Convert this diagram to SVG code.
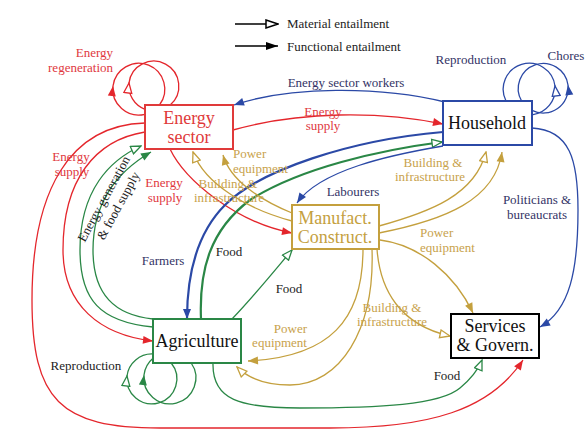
<svg xmlns="http://www.w3.org/2000/svg" width="588" height="435" viewBox="0 0 588 435">
<style>
text{font-family:"Liberation Serif","Times New Roman",serif;font-size:13px}
.node{font-size:18px;text-anchor:middle}
.c{text-anchor:middle}
.e{text-anchor:end}
.tr{fill:#e0383e}.tb{fill:#333366}.tg{fill:#c8a24c}.tk{fill:#222}
.ln{fill:none;stroke-width:1.3}
.r{stroke:#e4262c}.b{stroke:#2b49a6}.y{stroke:#c4a03e}.g{stroke:#2a8746}.k{stroke:#000}
.w{stroke-width:2.2}
</style>
<defs>
<marker id="fr" markerUnits="userSpaceOnUse" viewBox="0 0 12 10" markerWidth="12" markerHeight="10" refX="11" refY="5" orient="auto"><path d="M1,1 L11,5 L1,9 z" fill="#e4262c" stroke="none"/></marker>
<marker id="hr" markerUnits="userSpaceOnUse" viewBox="0 0 12 10" markerWidth="12" markerHeight="10" refX="11" refY="5" orient="auto"><path d="M1,1 L11,5 L1,9 z" fill="#fff" stroke="#e4262c" stroke-width="1.3"/></marker>
<marker id="fb" markerUnits="userSpaceOnUse" viewBox="0 0 12 10" markerWidth="12" markerHeight="10" refX="11" refY="5" orient="auto"><path d="M1,1 L11,5 L1,9 z" fill="#2b49a6" stroke="none"/></marker>
<marker id="hb" markerUnits="userSpaceOnUse" viewBox="0 0 12 10" markerWidth="12" markerHeight="10" refX="11" refY="5" orient="auto"><path d="M1,1 L11,5 L1,9 z" fill="#fff" stroke="#2b49a6" stroke-width="1.3"/></marker>
<marker id="fy" markerUnits="userSpaceOnUse" viewBox="0 0 12 10" markerWidth="12" markerHeight="10" refX="11" refY="5" orient="auto"><path d="M1,1 L11,5 L1,9 z" fill="#c4a03e" stroke="none"/></marker>
<marker id="hy" markerUnits="userSpaceOnUse" viewBox="0 0 12 10" markerWidth="12" markerHeight="10" refX="11" refY="5" orient="auto"><path d="M1,1 L11,5 L1,9 z" fill="#fff" stroke="#c4a03e" stroke-width="1.3"/></marker>
<marker id="fg" markerUnits="userSpaceOnUse" viewBox="0 0 12 10" markerWidth="12" markerHeight="10" refX="11" refY="5" orient="auto"><path d="M1,1 L11,5 L1,9 z" fill="#2a8746" stroke="none"/></marker>
<marker id="hg" markerUnits="userSpaceOnUse" viewBox="0 0 12 10" markerWidth="12" markerHeight="10" refX="11" refY="5" orient="auto"><path d="M1,1 L11,5 L1,9 z" fill="#fff" stroke="#2a8746" stroke-width="1.3"/></marker>
<marker id="fk" markerUnits="userSpaceOnUse" viewBox="0 0 14 10" markerWidth="14" markerHeight="10" refX="13" refY="5" orient="auto"><path d="M1,1 L13,5 L1,9 z" fill="#000" stroke="none"/></marker>
<marker id="hk" markerUnits="userSpaceOnUse" viewBox="0 0 14 10" markerWidth="14" markerHeight="10" refX="13" refY="5" orient="auto"><path d="M1,1 L13,5 L1,9 z" fill="#fff" stroke="#000" stroke-width="1.5"/></marker>
</defs>
<rect width="588" height="435" fill="#fff"/>

<g id="legend">
<path class="ln k" stroke-width="2" d="M235,24 L278,24" marker-end="url(#hk)"/>
<path class="ln k" stroke-width="2" d="M235,46 L278,46" marker-end="url(#fk)"/>
<text x="287" y="28" class="tk">Material entailment</text>
<text x="287" y="51" class="tk">Functional entailment</text>
</g>

<g id="connectors">
<!-- self loops -->
<path class="ln r" d="M145,114.3 A26,26 0 0,1 113,86 A26,26 0 1,1 159.5,105" marker-mid="url(#fr)"/>
<path class="ln r" d="M145,109.3 A25,25 0 0,1 129,83 A25,25 0 1,1 170.2,105" marker-mid="url(#hr)"/>
<path class="ln b" d="M532,114.8 A26,26 0 0,0 555,86 A26,26 0 1,0 506,101" marker-mid="url(#hb)"/>
<path class="ln b" d="M532,110.4 A25,25 0 0,0 568,85 A25,25 0 1,0 521.6,101" marker-mid="url(#fb)"/>
<path class="ln g" d="M171.2,363 A25,25 0 1,1 127,376 A25,25 0 0,1 153,354" marker-mid="url(#hg)"/>
<path class="ln g" d="M191.2,363 A26,26 0 1,1 144,375 A26,26 0 0,1 153,358.3" marker-mid="url(#fg)"/>
<!-- red -->
<path class="ln r" d="M233,130 C300,111 380,111 443,124" marker-end="url(#fr)"/>
<path class="ln r" d="M170,149 C185,180 235,222 292,233" marker-end="url(#fr)"/>
<path class="ln r" d="M145,132 C95,140 63,180 63,250 C63,305 100,335 153,341" marker-end="url(#fr)"/>
<path class="ln r" d="M145,123 C70,125 32,190 32,300 C32,400 60,428 160,428 L330,428 C430,428 490,410 523,360" marker-end="url(#fr)"/>
<!-- green -->
<path class="ln g" d="M153,327 C100,322 80,300 80,250 C80,190 110,160 141,146" marker-end="url(#hg)"/>
<path class="ln g" d="M153,319 C115,315 93,295 93,250 C93,200 120,170 151,152" marker-end="url(#fg)"/>
<path class="ln g w" d="M201,319 C199,270 210,230 250,200 C300,168 380,150 442,142" marker-end="url(#hg)"/>
<path class="ln g" d="M232,319 C255,295 275,270 292,250" marker-end="url(#hg)"/>
<path class="ln g" d="M213,363 C212,400 240,408 300,408 C380,408 440,405 460,388 C472,378 478,370 482,360" marker-end="url(#hg)"/>
<!-- blue -->
<path class="ln b" d="M445,102 C380,86 290,86 234,105" marker-end="url(#fb)"/>
<path class="ln b w" d="M443,132 C350,140 260,170 225,205 C195,235 187,280 187,319" marker-end="url(#fb)"/>
<path class="ln b" d="M443,146 C390,155 320,170 297,203" marker-end="url(#fb)"/>
<path class="ln b" d="M532,128 C570,130 578,160 578,210 C578,270 570,310 540,327" marker-end="url(#fb)"/>
<!-- gold -->
<path class="ln y" d="M292,221 C250,210 205,185 193,152" marker-end="url(#hy)"/>
<path class="ln y" d="M292,213 C260,200 230,180 223,155" marker-end="url(#fy)"/>
<path class="ln y" d="M379,226 C430,212 475,195 486,152" marker-end="url(#hy)"/>
<path class="ln y" d="M379,233 C445,220 495,200 502,152" marker-end="url(#fy)"/>
<path class="ln y" d="M380,240 C420,245 455,275 473,313" marker-end="url(#fy)"/>
<path class="ln y" d="M377,249 C380,290 400,325 450,336" marker-end="url(#hy)"/>
<path class="ln y" d="M363,249 C363,320 330,357 248,361" marker-end="url(#fy)"/>
<path class="ln y" d="M372,249 C375,330 340,385 290,385 C265,385 248,378 237,367" marker-end="url(#hy)"/>
</g>

<g id="labels">
<text x="113" y="57" class="e tr">Energy</text>
<text x="113" y="72" class="e tr">regeneration</text>
<text x="346" y="87" class="c tb">Energy sector workers</text>
<text x="323" y="116" class="c tr">Energy</text>
<text x="323" y="130" class="c tr">supply</text>
<text x="471" y="64" class="c tb">Reproduction</text>
<text x="566" y="60" class="c tb">Chores</text>
<text x="71" y="161" class="c tr">Energy</text>
<text x="72" y="176" class="c tr">supply</text>
<text x="164" y="187" class="c tr">Energy</text>
<text x="165" y="202" class="c tr">supply</text>
<text x="233" y="158" class="tg">Power</text>
<text x="233" y="173" class="tg">equipment</text>
<text x="228" y="188" class="c tg">Building &amp;</text>
<text x="229" y="202" class="c tg">infrastructure</text>
<text x="433" y="167" class="c tg">Building &amp;</text>
<text x="430" y="181" class="c tg">infrastructure</text>
<text x="353" y="196" class="c tb">Labourers</text>
<text x="537" y="204" class="c tb">Politicians &amp;</text>
<text x="537" y="219" class="c tb">bureaucrats</text>
<text x="420" y="237" class="tg">Power</text>
<text x="420" y="252" class="tg">equipment</text>
<text x="392" y="312" class="c tg">Building &amp;</text>
<text x="392" y="326" class="c tg">infrastructure</text>
<text x="163" y="265" class="c tb">Farmers</text>
<text x="229" y="256" class="c tk">Food</text>
<text x="289" y="293" class="c tk">Food</text>
<text x="307" y="333" class="e tg">Power</text>
<text x="307" y="347" class="e tg">equipment</text>
<text x="86" y="370" class="c tk">Reproduction</text>
<text x="447" y="380" class="c tk">Food</text>
<g transform="translate(104,199) rotate(-61.4)">
<text x="0" y="4" class="c tk">Energy generation</text>
<text x="1" y="20" class="c tk">&amp; food supply</text>
</g>
</g>

<g id="energy">
<rect x="145" y="105" width="88" height="44" fill="#fff" stroke="#e03a3a" stroke-width="2"/>
<text x="189" y="124" class="node" fill="#e03a3a">Energy</text>
<text x="189" y="143" class="node" fill="#e03a3a">sector</text>
</g>
<g id="household">
<rect x="443" y="101" width="89" height="44" fill="#fff" stroke="#2b49a6" stroke-width="2"/>
<text x="487" y="129" class="node" fill="#111">Household</text>
</g>
<g id="manufact">
<rect x="292" y="205" width="87" height="44" fill="#fff" stroke="#c4a03e" stroke-width="2"/>
<text x="335" y="224" class="node" fill="#c4a03e">Manufact.</text>
<text x="335" y="243" class="node" fill="#c4a03e">Construct.</text>
</g>
<g id="agriculture">
<rect x="153" y="319" width="88" height="44" fill="#fff" stroke="#2a8746" stroke-width="2"/>
<text x="197" y="347" class="node" fill="#111">Agriculture</text>
</g>
<g id="services">
<rect x="451" y="314" width="88" height="44" fill="#fff" stroke="#000" stroke-width="2"/>
<text x="495" y="332" class="node" fill="#111">Services</text>
<text x="495" y="351" class="node" fill="#111">&amp; Govern.</text>
</g>
</svg>
